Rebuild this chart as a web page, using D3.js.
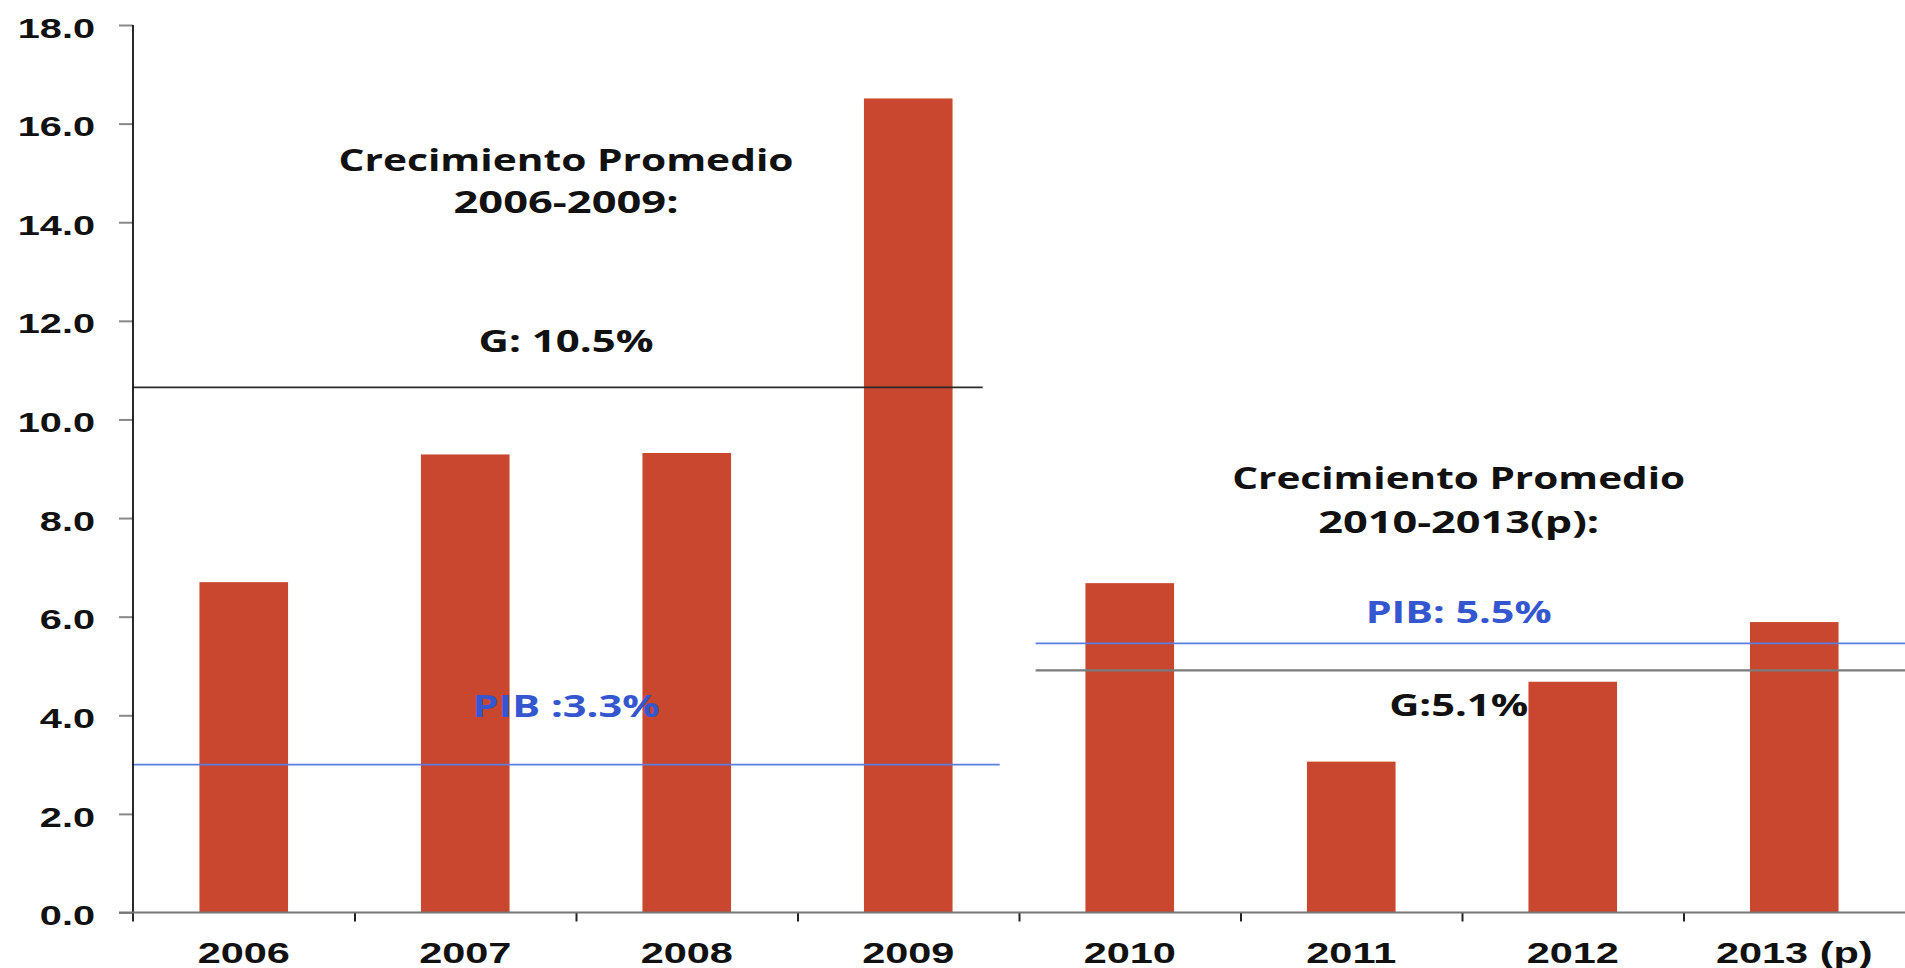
<!DOCTYPE html>
<html>
<head>
<meta charset="utf-8">
<script src="https://cdn.jsdelivr.net/npm/d3@7/dist/d3.min.js"></script>
<style>
  html, body { margin: 0; padding: 0; background: #fff; }
  svg { display: block; }
</style>
</head>
<body>
<svg id="chart" width="1905" height="968"></svg>
<script>
// ---------- DATA ----------
const years = ["2006", "2007", "2008", "2009", "2010", "2011", "2012", "2013 (p)"];
const growth = [6.70, 9.29, 9.32, 16.51, 6.68, 3.06, 4.68, 5.89];
const yTicks = [0, 2, 4, 6, 8, 10, 12, 14, 16, 18];

// average reference lines (value in % units, extent in category-band units)
const avgNames  = ["G 2006-2009", "PIB 2006-2009", "PIB 2010-2013", "G 2010-2013"];
const avgValues = [10.65, 3.0, 5.46, 4.91];
const avgFrom   = [0, 0, 4.075, 4.075];
const avgTo     = [3.836, 3.913, 8, 8];

// annotation texts
const noteTexts = [
  "Crecimiento Promedio", "2006-2009:", "G: 10.5%", "PIB :3.3%",
  "Crecimiento Promedio", "2010-2013(p):", "PIB: 5.5%", "G:5.1%"
];

// ---------- LAYOUT / STYLE ----------
const M = { left: 133, right: 1905, top: 25, bottom: 912.5 };
const barColor = "#C9472F";
const blueText = "#3457CF";
const lineStyles = [
  { stroke: "#2a2a2a", width: 1.6 },
  { stroke: "#5b7de0", width: 1.8 },
  { stroke: "#5b7de0", width: 1.8 },
  { stroke: "#7a7a7a", width: 2.2 }
];
// annotation layout: center in band units, baseline in value units, target width px
const noteLayout = [
  { cx: 1.955, v: 15.03, w: 455, color: "#111" },
  { cx: 1.955, v: 14.19, w: 225, color: "#111" },
  { cx: 1.955, v: 11.37, w: 175, color: "#111" },
  { cx: 1.955, v: 3.967, w: 187, color: blueText },
  { cx: 5.985, v: 8.59, w: 453, color: "#111" },
  { cx: 5.985, v: 7.70, w: 281, color: "#111" },
  { cx: 5.985, v: 5.87, w: 186, color: blueText },
  { cx: 5.985, v: 3.99, w: 139, color: "#111" }
];

const svg = d3.select("#chart");

const x = d3.scaleBand().domain(years).range([M.left, M.right])
  .paddingInner(0.6).paddingOuter(0.3);
const xb = d3.scaleLinear().domain([0, years.length]).range([M.left, M.right]);
const y = d3.scaleLinear().domain([0, 18]).range([M.bottom, M.top]);

function stretch(sel, factor) {
  sel.each(function () {
    const n = this.getComputedTextLength();
    d3.select(this).attr("textLength", n * factor).attr("lengthAdjust", "spacingAndGlyphs");
  });
}

// bars
svg.append("g").selectAll("rect")
  .data(years.map((yr, i) => ({ yr, v: growth[i] })))
  .join("rect")
  .attr("x", d => x(d.yr))
  .attr("width", x.bandwidth())
  .attr("y", d => y(d.v))
  .attr("height", d => y(0) - y(d.v))
  .attr("fill", barColor);

// average lines
svg.append("g").selectAll("line")
  .data(avgNames.map((n, i) => ({ n, v: avgValues[i], a: avgFrom[i], b: avgTo[i], s: lineStyles[i] })))
  .join("line")
  .attr("x1", d => xb(d.a)).attr("x2", d => xb(d.b))
  .attr("y1", d => y(d.v)).attr("y2", d => y(d.v))
  .attr("stroke", d => d.s.stroke)
  .attr("stroke-width", d => d.s.width);

// y axis
const yAxis = svg.append("g")
  .attr("transform", `translate(${M.left},0)`)
  .call(d3.axisLeft(y).tickValues(yTicks).tickFormat(d3.format(".1f")).tickSize(14).tickPadding(24));
yAxis.select(".domain").remove();
yAxis.selectAll(".tick line").attr("stroke", "#888").attr("stroke-width", 2);
yAxis.append("line").attr("x1", 0).attr("x2", 0).attr("y1", y(18)).attr("y2", M.bottom + 9)
  .attr("stroke", "#111").attr("stroke-width", 1.8);
yAxis.selectAll(".tick text")
  .attr("font-family", "'Liberation Sans', Arial, sans-serif")
  .attr("font-weight", "bold").attr("font-size", 27).attr("fill", "#111")
  .attr("dy", "0.45em")
  .call(stretch, 1.47);

// x axis boundary ticks
const xTicks = svg.append("g")
  .attr("transform", `translate(0,${M.bottom})`)
  .call(d3.axisBottom(xb).tickValues(d3.range(1, years.length)).tickFormat("").tickSize(9));
xTicks.select(".domain").remove();
xTicks.selectAll(".tick line").attr("stroke", "#222").attr("stroke-width", 2);
svg.append("line").attr("x1", M.left - 14).attr("x2", M.right).attr("y1", M.bottom).attr("y2", M.bottom)
  .attr("stroke", "#777").attr("stroke-width", 2.2);

// x axis labels
const xAxis = svg.append("g")
  .attr("transform", `translate(0,${M.bottom})`)
  .call(d3.axisBottom(x).tickSize(0));
xAxis.select(".domain").remove();
xAxis.selectAll(".tick text")
  .attr("font-family", "'Liberation Sans', Arial, sans-serif")
  .attr("font-weight", "bold").attr("font-size", 29).attr("fill", "#111")
  .attr("y", 50.5).attr("dy", 0)
  .call(stretch, 1.43);

// annotations
svg.append("g").selectAll("text")
  .data(noteTexts.map((t, i) => ({ t, L: noteLayout[i] })))
  .join("text")
  .attr("x", d => xb(d.L.cx))
  .attr("y", d => y(d.L.v))
  .attr("text-anchor", "middle")
  .attr("font-family", "'Open Sans', sans-serif")
  .attr("font-weight", "bold")
  .attr("font-size", 31)
  .attr("fill", d => d.L.color)
  .attr("textLength", d => d.L.w)
  .attr("lengthAdjust", "spacingAndGlyphs")
  .text(d => d.t);
</script>
</body>
</html>
